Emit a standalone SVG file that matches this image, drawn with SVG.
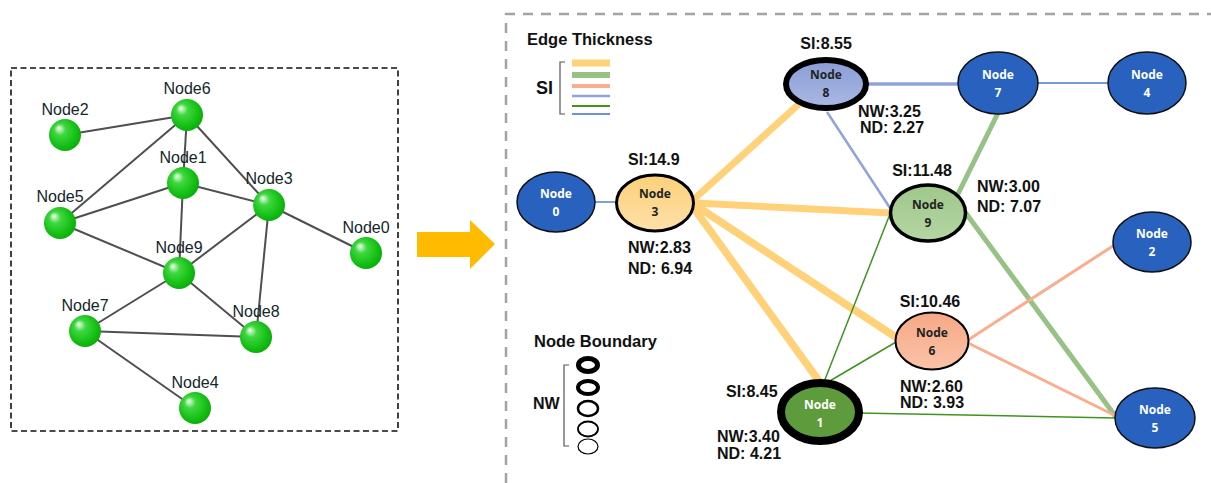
<svg xmlns="http://www.w3.org/2000/svg" width="1211" height="483" viewBox="0 0 1211 483">
  <style>
    .lbl { font-family: "Liberation Sans", Arial, sans-serif; font-size: 16px; fill: #13262a; text-anchor: middle; }
    .stat { font-family: "Liberation Sans", Arial, sans-serif; font-size: 16px; font-weight: bold; fill: #111; }
    .leg { font-family: "Liberation Sans", Arial, sans-serif; font-size: 16.5px; font-weight: bold; fill: #111; }
    .nt { font-family: "Open Sans", "Noto Sans", sans-serif; font-size: 12px; font-weight: bold; text-anchor: middle; }
    .nt.w { fill: #ffffff; }
    .nt.d { fill: #222222; }
    .ge { stroke: #4f4f4f; stroke-width: 2; fill: none; }
    .sph { fill: url(#ball); }
    .blue { fill: #2862be; stroke: #111; stroke-width: 1.5; }
    .brk { fill: none; stroke: #555; stroke-width: 1.2; }
  </style>
  <defs>
    <radialGradient id="ball" cx="0.45" cy="0.45" r="0.6" fx="0.3" fy="0.28">
      <stop offset="0" stop-color="#f4fff4"/>
      <stop offset="0.3" stop-color="#3fd83f"/>
      <stop offset="0.8" stop-color="#10bb10"/>
      <stop offset="1" stop-color="#0aa80a"/>
    </radialGradient>
    <linearGradient id="g8" x1="0" y1="0" x2="0" y2="1">
      <stop offset="0" stop-color="#8a9dd6"/>
      <stop offset="1" stop-color="#aab8e4"/>
    </linearGradient>
    <linearGradient id="g3" x1="0" y1="0" x2="0" y2="1">
      <stop offset="0" stop-color="#fcd07a"/>
      <stop offset="1" stop-color="#fee0a8"/>
    </linearGradient>
    <linearGradient id="g9" x1="0" y1="0" x2="0" y2="1">
      <stop offset="0" stop-color="#9fc78b"/>
      <stop offset="1" stop-color="#b4d6a3"/>
    </linearGradient>
    <linearGradient id="g6" x1="0" y1="0" x2="0" y2="1">
      <stop offset="0" stop-color="#f6a886"/>
      <stop offset="1" stop-color="#fbc3a8"/>
    </linearGradient>
  </defs>

  <rect width="1211" height="483" fill="#ffffff"/>

  <!-- original network panel -->
  <rect x="11" y="68" width="387" height="363" fill="none" stroke="#111" stroke-width="1.6" stroke-dasharray="6 3.5"/>

  <g id="left-edges">
    <line class="ge" x1="65" y1="135" x2="187" y2="115"/>
    <line class="ge" x1="187" y1="115" x2="60" y2="223"/>
    <line class="ge" x1="187" y1="115" x2="183" y2="183"/>
    <line class="ge" x1="187" y1="115" x2="269" y2="205"/>
    <line class="ge" x1="183" y1="183" x2="60" y2="223"/>
    <line class="ge" x1="183" y1="183" x2="269" y2="205"/>
    <line class="ge" x1="183" y1="183" x2="179" y2="273"/>
    <line class="ge" x1="60" y1="223" x2="179" y2="273"/>
    <line class="ge" x1="269" y1="205" x2="179" y2="273"/>
    <line class="ge" x1="269" y1="205" x2="256" y2="337"/>
    <line class="ge" x1="269" y1="205" x2="366" y2="253"/>
    <line class="ge" x1="179" y1="273" x2="85" y2="331"/>
    <line class="ge" x1="179" y1="273" x2="256" y2="337"/>
    <line class="ge" x1="85" y1="331" x2="256" y2="337"/>
    <line class="ge" x1="85" y1="331" x2="195" y2="408"/>
  </g>

  <g id="n6"><circle class="sph" cx="187" cy="115" r="16"/><text class="lbl" x="187" y="94">Node6</text></g>
  <g id="n2"><circle class="sph" cx="65" cy="135" r="16"/><text class="lbl" x="65" y="115">Node2</text></g>
  <g id="n1"><circle class="sph" cx="183" cy="183" r="16"/><text class="lbl" x="183" y="163">Node1</text></g>
  <g id="n3"><circle class="sph" cx="269" cy="205" r="16"/><text class="lbl" x="269" y="184">Node3</text></g>
  <g id="n5"><circle class="sph" cx="60" cy="223" r="16"/><text class="lbl" x="60" y="202">Node5</text></g>
  <g id="n0"><circle class="sph" cx="366" cy="253" r="16"/><text class="lbl" x="366" y="233">Node0</text></g>
  <g id="n9"><circle class="sph" cx="179" cy="273" r="16"/><text class="lbl" x="179" y="253">Node9</text></g>
  <g id="n7"><circle class="sph" cx="85" cy="331" r="16"/><text class="lbl" x="85" y="311">Node7</text></g>
  <g id="n8"><circle class="sph" cx="256" cy="337" r="16"/><text class="lbl" x="256" y="317">Node8</text></g>
  <g id="n4"><circle class="sph" cx="195" cy="408" r="16"/><text class="lbl" x="195" y="388">Node4</text></g>

  <!-- transition arrow -->
  <polygon points="417,232 470,232 470,220 495,244 470,269 470,257 417,257" fill="#ffbb00"/>

  <!-- weighted network panel -->
  <polyline points="506,483 506,14 1211,14" fill="none" stroke="#a3a3a3" stroke-width="2.5" stroke-dasharray="10 8"/>

  <!-- legend: edge thickness -->
  <g id="legend-edges">
    <text class="leg" x="527" y="45">Edge Thickness</text>
    <text class="stat" x="536" y="94" style="font-size:18px">SI</text>
    <polyline class="brk" points="565,62 560,62 560,114 565,114"/>
    <line x1="572" y1="63" x2="610" y2="63" stroke="#ffd27a" stroke-width="7"/>
    <line x1="572" y1="75" x2="610" y2="75" stroke="#97c285" stroke-width="6"/>
    <line x1="572" y1="86" x2="610" y2="86" stroke="#f9ae8f" stroke-width="4"/>
    <line x1="572" y1="96" x2="610" y2="96" stroke="#8ea4da" stroke-width="2.5"/>
    <line x1="572" y1="106" x2="610" y2="106" stroke="#3f9420" stroke-width="2"/>
    <line x1="572" y1="114" x2="610" y2="114" stroke="#6f90d8" stroke-width="2"/>
  </g>

  <!-- legend: node boundary -->
  <g id="legend-nodes">
    <text class="leg" x="534" y="347">Node Boundary</text>
    <text class="stat" x="533" y="409">NW</text>
    <polyline class="brk" points="569,365 564,365 564,446 569,446"/>
    <ellipse cx="588" cy="365" rx="9.5" ry="6.5" fill="#fff" stroke="#000" stroke-width="5"/>
    <ellipse cx="588" cy="387.5" rx="10" ry="6.5" fill="#fff" stroke="#000" stroke-width="4"/>
    <ellipse cx="588" cy="408.5" rx="10" ry="7.5" fill="#fff" stroke="#000" stroke-width="2.5"/>
    <ellipse cx="588" cy="429" rx="10" ry="7.5" fill="#fff" stroke="#000" stroke-width="1.8"/>
    <ellipse cx="588" cy="446.5" rx="10" ry="7.5" fill="#fff" stroke="#000" stroke-width="1.2"/>
  </g>

  <g id="edges" stroke-linecap="butt" fill="none">
    <line x1="595" y1="202" x2="616" y2="202" stroke="#4a78cc" stroke-width="1.4"/>
    <line x1="693" y1="200" x2="799" y2="104" stroke="#ffd27a" stroke-width="7"/>
    <line x1="695" y1="203" x2="890" y2="213" stroke="#ffd27a" stroke-width="7"/>
    <line x1="695" y1="205" x2="897" y2="338" stroke="#ffd27a" stroke-width="7.5"/>
    <line x1="693" y1="207" x2="819" y2="381" stroke="#ffd27a" stroke-width="7.5"/>
    <line x1="866" y1="84" x2="958" y2="84" stroke="#8ea4da" stroke-width="3.5"/>
    <line x1="827" y1="112" x2="890" y2="208" stroke="#8ea4da" stroke-width="2.5"/>
    <line x1="1038" y1="83" x2="1108" y2="83" stroke="#4a78cc" stroke-width="1.3"/>
    <line x1="998" y1="113" x2="955" y2="200" stroke="#97c285" stroke-width="5"/>
    <line x1="965" y1="212" x2="1116" y2="417" stroke="#97c285" stroke-width="5"/>
    <line x1="824" y1="382" x2="890" y2="214" stroke="#3f9420" stroke-width="1.5"/>
    <line x1="823" y1="385" x2="896" y2="342" stroke="#3f9420" stroke-width="1.5"/>
    <line x1="858" y1="413" x2="1115" y2="418" stroke="#3f9420" stroke-width="1.5"/>
    <line x1="968" y1="340" x2="1116" y2="244" stroke="#f9ae8f" stroke-width="3"/>
    <line x1="968" y1="343" x2="1116" y2="416" stroke="#f9ae8f" stroke-width="3"/>
  </g>

  <g id="node0">
    <ellipse class="blue" cx="556" cy="202" rx="39" ry="30"/>
    <text class="nt w" x="556" y="198">Node</text><text class="nt w" x="556" y="216">0</text>
  </g>
  <g id="node3">
    <ellipse cx="655" cy="203" rx="38.5" ry="28" fill="url(#g3)" stroke="#000" stroke-width="3"/>
    <text class="nt d" x="655" y="198">Node</text><text class="nt d" x="655" y="216">3</text>
    <text class="stat" x="628" y="165">SI:14.9</text>
    <text class="stat" x="628" y="253">NW:2.83</text>
    <text class="stat" x="628" y="274">ND: 6.94</text>
  </g>
  <g id="node8">
    <ellipse cx="826" cy="84" rx="40" ry="24" fill="url(#g8)" stroke="#000" stroke-width="6"/>
    <text class="nt d" x="826" y="79">Node</text><text class="nt d" x="826" y="97">8</text>
    <text class="stat" x="826" y="49" text-anchor="middle">SI:8.55</text>
    <text class="stat" x="858" y="117">NW:3.25</text>
    <text class="stat" x="860" y="133">ND: 2.27</text>
  </g>
  <g id="node7">
    <ellipse class="blue" cx="998" cy="83" rx="40" ry="31"/>
    <text class="nt w" x="998" y="79">Node</text><text class="nt w" x="998" y="97">7</text>
  </g>
  <g id="node4">
    <ellipse class="blue" cx="1147" cy="83" rx="39" ry="31"/>
    <text class="nt w" x="1147" y="79">Node</text><text class="nt w" x="1147" y="97">4</text>
  </g>
  <g id="node9">
    <ellipse cx="928" cy="213" rx="37.5" ry="28" fill="url(#g9)" stroke="#000" stroke-width="3.5"/>
    <text class="nt d" x="928" y="209">Node</text><text class="nt d" x="928" y="227">9</text>
    <text class="stat" x="922" y="176" text-anchor="middle">SI:11.48</text>
    <text class="stat" x="977" y="192">NW:3.00</text>
    <text class="stat" x="977" y="212">ND: 7.07</text>
  </g>
  <g id="node2">
    <ellipse class="blue" cx="1152" cy="242" rx="39" ry="30"/>
    <text class="nt w" x="1152" y="238">Node</text><text class="nt w" x="1152" y="256">2</text>
  </g>
  <g id="node6">
    <ellipse cx="932" cy="341" rx="36.5" ry="28.5" fill="url(#g6)" stroke="#000" stroke-width="2"/>
    <text class="nt d" x="932" y="337">Node</text><text class="nt d" x="932" y="355">6</text>
    <text class="stat" x="930" y="307" text-anchor="middle">SI:10.46</text>
    <text class="stat" x="900" y="392">NW:2.60</text>
    <text class="stat" x="900" y="408">ND: 3.93</text>
  </g>
  <g id="node5">
    <ellipse class="blue" cx="1155" cy="418" rx="40" ry="30"/>
    <text class="nt w" x="1155" y="414">Node</text><text class="nt w" x="1155" y="432">5</text>
  </g>
  <g id="node1">
    <ellipse cx="820" cy="412" rx="39" ry="29" fill="#5e9b3c" stroke="#000" stroke-width="8"/>
    <text class="nt w" x="820" y="409">Node</text><text class="nt w" x="820" y="427">1</text>
    <text class="stat" x="726" y="397">SI:8.45</text>
    <text class="stat" x="717" y="442">NW:3.40</text>
    <text class="stat" x="717" y="459">ND: 4.21</text>
  </g>
</svg>
